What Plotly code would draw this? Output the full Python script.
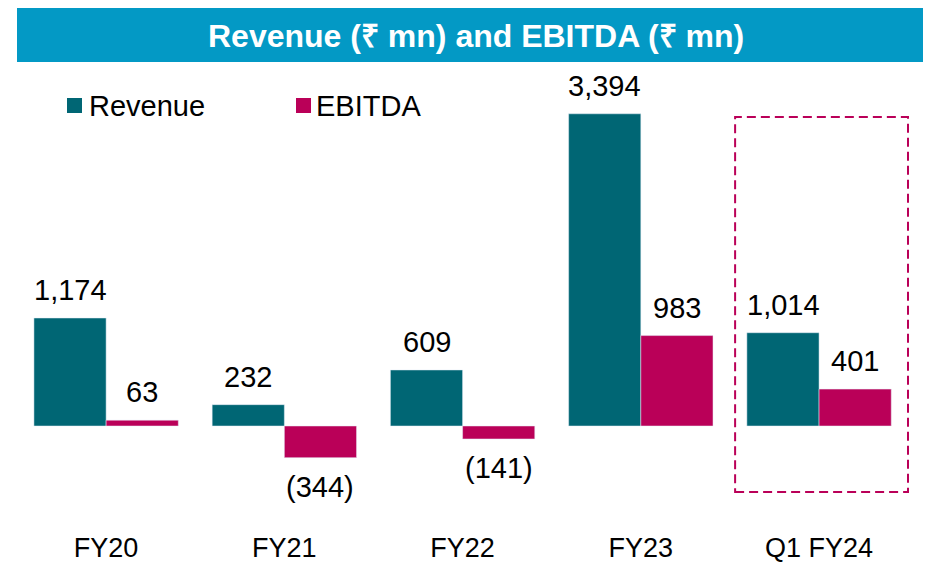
import plotly.graph_objects as go

categories = ["FY20", "FY21", "FY22", "FY23", "Q1 FY24"]
revenue = [1174, 232, 609, 3394, 1014]
ebitda = [63, -344, -141, 983, 401]
series_names = ["Revenue", "EBITDA"]

REV_COLOR = "#006674"
EB_COLOR = "#BA0058"
TITLE_BG = "#0399C5"
FONT = "Arial, Liberation Sans, sans-serif"


def fmt(v):
    return f"({abs(v):,})" if v < 0 else f"{v:,}"


fig = go.Figure()
fig.add_trace(go.Bar(name=series_names[0], x=categories, y=revenue, marker_color=REV_COLOR))
fig.add_trace(go.Bar(name=series_names[1], x=categories, y=ebitda, marker_color=EB_COLOR))

annotations = []
for series, shift in ((revenue, -36), (ebitda, 36)):
    for cat, v in zip(categories, series):
        annotations.append(dict(
            x=cat, y=v, xref="x", yref="y", text=fmt(v), showarrow=False,
            xshift=shift, yshift=28 if v >= 0 else -29,
            font=dict(family=FONT, size=29, color="#000000"),
            xanchor="center", yanchor="middle",
        ))

# title
annotations.append(dict(
    x=0.5146, y=1.0557, xref="paper", yref="paper",
    text="<b>Revenue (₹ mn) and EBITDA (₹ mn)</b>", showarrow=False,
    font=dict(family=FONT, size=32, color="#FFFFFF"),
    xanchor="center", yanchor="middle",
))

# legend (manual, matching the reference layout)
legend_items = [(series_names[0], REV_COLOR, 0.05605, 0.07287, 0.0785),
                (series_names[1], EB_COLOR, 0.3128, 0.3296, 0.3330)]
shapes = [
    dict(type="rect", xref="paper", yref="paper", x0=0, x1=1.03, y0=1.0, y1=1.13,
         fillcolor=TITLE_BG, line=dict(width=0), layer="below"),
    dict(type="rect", xref="x", yref="y", x0=3.529, x1=4.499, y0=-717, y1=3359,
         line=dict(color=EB_COLOR, width=2, dash="9px,5px"), fillcolor="rgba(0,0,0,0)"),
]
for name, color, sx0, sx1, tx in legend_items:
    shapes.append(dict(type="rect", xref="paper", yref="paper", x0=sx0, x1=sx1,
                       y0=0.8908, y1=0.9229, fillcolor=color, line=dict(width=0)))
    annotations.append(dict(x=tx, y=0.9058, xref="paper", yref="paper", text=name,
                            showarrow=False, xanchor="left", yanchor="middle",
                            font=dict(family=FONT, size=29, color="#000000")))

fig.update_layout(
    width=931, height=564,
    margin=dict(l=9, r=30, t=54, b=43),
    paper_bgcolor="white", plot_bgcolor="white",
    barmode="group", bargap=0.19, bargroupgap=0,
    font=dict(family=FONT, size=27, color="#000000"),
    showlegend=False,
    xaxis=dict(showline=False, showgrid=False, zeroline=False, ticks="", automargin=False,
               tickfont=dict(family=FONT, size=27, color="#000000")),
    yaxis=dict(visible=False, range=[-1119.7, 3957], showgrid=False, zeroline=False,
               automargin=False),
    annotations=annotations,
    shapes=shapes,
)

fig.write_html("out.html")
